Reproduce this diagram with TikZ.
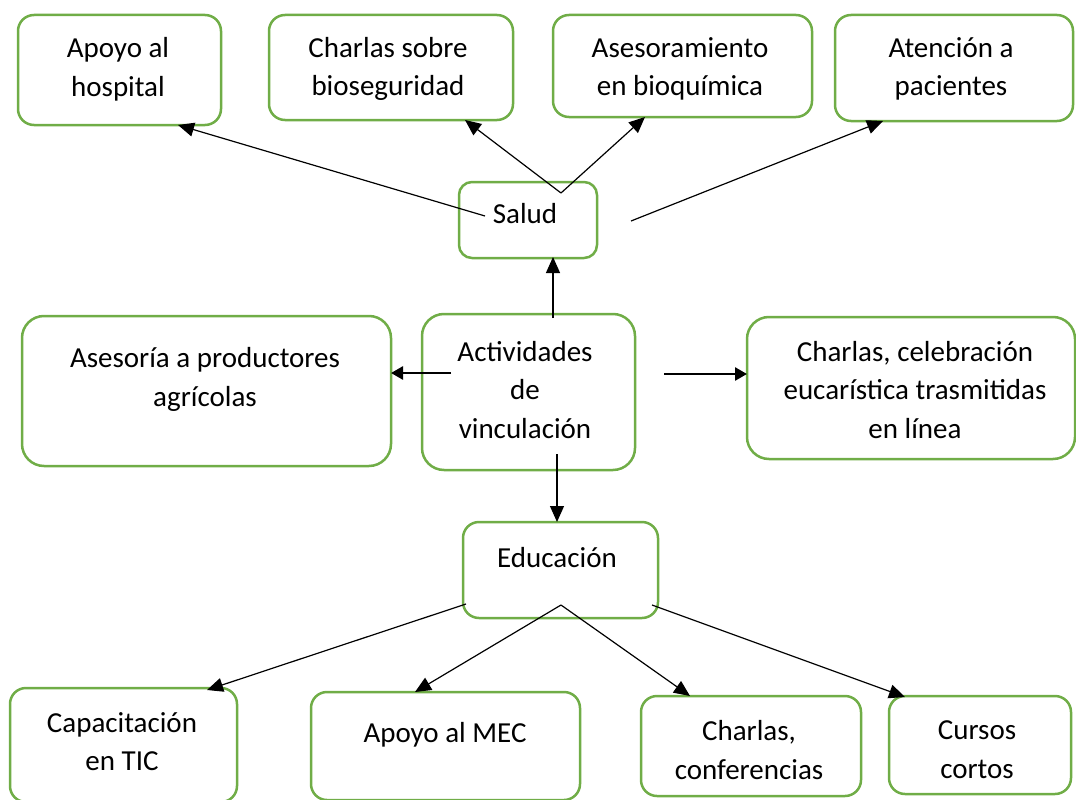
\documentclass[tikz,border=0pt]{standalone}
\usepackage{fontspec}
\setmainfont{Carlito}
\usetikzlibrary{arrows.meta}
\definecolor{boxgreen}{HTML}{70AD47}
\tikzset{
  box/.style={draw=boxgreen, line width=2.5pt, rounded corners=16pt, inner sep=0pt},
  lbl/.style={align=center, font=\fontsize{29}{38.5}\selectfont, inner sep=0pt},
  conn/.style={line width=1.2pt, -{Triangle[length=16pt,width=14pt]}},
  boldarrow/.style={line width=2.6pt, -{Triangle[length=12pt,width=13pt]}},
}
\begin{document}
\begin{tikzpicture}[x=1pt,y=-1pt]
\useasboundingbox (0,0) rectangle (1076,800);
% boxes
\node[box, minimum width=203pt, minimum height=110pt] (b1) at (119.5,70) {};
\node[box, minimum width=244pt, minimum height=105pt] (b2) at (391,67.5) {};
\node[box, minimum width=259pt, minimum height=102pt] (b3) at (682.5,66) {};
\node[box, minimum width=238pt, minimum height=106pt] (b4) at (954,68) {};
\node[box, minimum width=138pt, minimum height=76pt, rounded corners=13pt] (salud) at (528,220) {};
\node[box, minimum width=213pt, minimum height=156pt, rounded corners=22pt] (act) at (528.5,392) {};
\node[box, minimum width=369pt, minimum height=150pt, rounded corners=22pt] (ases) at (206.5,391) {};
\node[box, minimum width=328pt, minimum height=142pt, rounded corners=22pt] (charlas) at (911,388) {};
\node[box, minimum width=195pt, minimum height=96pt] (edu) at (560.5,570) {};
\node[box, minimum width=227pt, minimum height=114pt] (cap) at (123.5,745) {};
\node[box, minimum width=269pt, minimum height=108pt] (mec) at (445.5,746) {};
\node[box, minimum width=220pt, minimum height=100pt] (cc) at (751,746) {};
\node[box, minimum width=182pt, minimum height=98pt] (cursos) at (980,745) {};
% texts
\node[lbl] (t1) at (118,69.5) {Apoyo al\\hospital};
\node[lbl] (t2) at (388,69) {Charlas sobre\\bioseguridad};
\node[lbl] (t3) at (680,69) {Asesoramiento\\en bioquímica};
\node[lbl] (t4) at (951,69) {Atención a\\pacientes};
\node[lbl] (ts) at (525,214) {Salud};
\node[lbl] (ta) at (525,390) {Actividades\\de\\vinculación};
\node[lbl] (tas) at (205,379.5) {Asesoría a productores\\agrícolas};
\node[lbl] (tch) at (915,390) {Charlas, celebración\\eucarística trasmitidas\\en línea};
\node[lbl] (te) at (557,558) {Educación};
\node[lbl] (tcap) at (122,741.5) {Capacitación\\en TIC};
\node[lbl] (tmec) at (445,734.5) {Apoyo al MEC};
\node[lbl] (tcc) at (749,750) {Charlas,\\conferencias};
\node[lbl] (tcu) at (977,749.5) {Cursos\\cortos};
% connector end points
\coordinate (s1) at (485,216);
\coordinate (e1) at (178,125);
\coordinate (sv) at (561,193);
\coordinate (e2) at (465,120);
\coordinate (e3) at (645,117);
\coordinate (s4) at (631,221);
\coordinate (e4) at (883,121);
\coordinate (au) at (553,318);
\coordinate (su) at (553,257);
\coordinate (al) at (451,373);
\coordinate (asr) at (391,373);
\coordinate (ar) at (664,374);
\coordinate (chl) at (747,374);
\coordinate (ad) at (557,454);
\coordinate (et) at (557,522);
\coordinate (el) at (466,604);
\coordinate (capt) at (207,690);
\coordinate (ev) at (561,605);
\coordinate (mect) at (415,692);
\coordinate (cct) at (690,696);
\coordinate (er) at (652,605);
\coordinate (cut) at (905,697);
% connectors
\draw[conn] (s1) -- (e1);
\draw[conn] (sv) -- (e2);
\draw[conn] (sv) -- (e3);
\draw[conn] (s4) -- (e4);
\draw[conn] (au) -- (su);
\draw[boldarrow] (al) -- (asr);
\draw[boldarrow] (ar) -- (chl);
\draw[conn] (ad) -- (et);
\draw[conn] (el) -- (capt);
\draw[conn] (ev) -- (mect);
\draw[conn] (ev) -- (cct);
\draw[conn] (er) -- (cut);
\end{tikzpicture}
\end{document}
